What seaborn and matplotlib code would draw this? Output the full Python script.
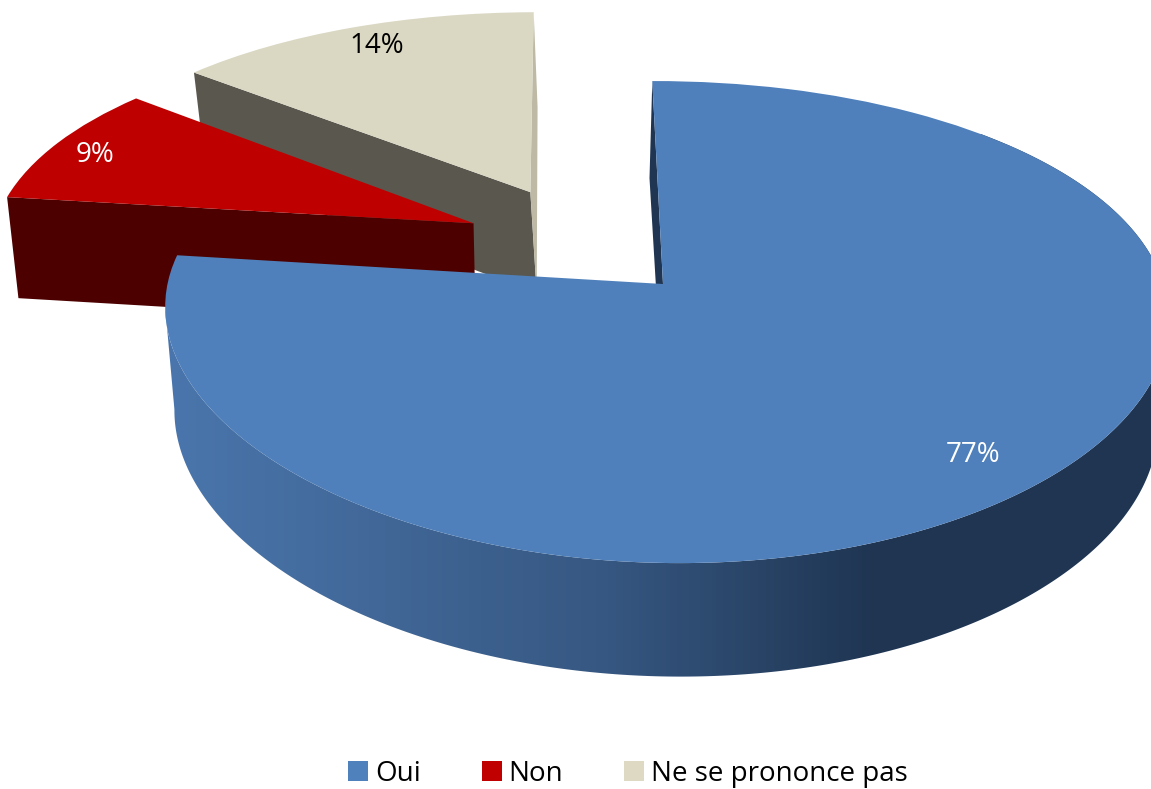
import numpy as np
import matplotlib
matplotlib.use("Agg")
import matplotlib.pyplot as plt
import seaborn as sns
from matplotlib.transforms import Transform
from matplotlib.patches import Polygon, Patch
from matplotlib.colors import LinearSegmentedColormap

categories = ["Oui", "Non", "Ne se prononce pas"]
values = [77, 9, 14]
labels = ["77%", "9%", "14%"]

top_colors = ["#4F80BB", "#BE0000", "#DAD7C2"]
wall_colors = ["#1F3552", "#4D0000", "#5A574E"]
sliver_color = "#BDB9A5"
plane_shift = [(0.0, 0.0), (-0.387, 0.27), (-0.27, 0.417)]
low_shift = [(0.0, 0.0), (0.0, 0.0), (0.012, 0.0)]
label_xy = [(973, 452), (95, 152), (377, 43)]

KX, KY, L = 0.12, 0.158, 0.005
TOP = dict(cx=663, y0=284, rx=498, skew=-12, a=235)
LOW = dict(cx=662, y0=388, rx=488, skew=-14, a=243)


def project(pts, p):
    u, v = pts[:, 0], pts[:, 1]
    dx = 1 + KX * v - L * u
    dy = 1 + KY * v - L * u
    return np.column_stack([p["cx"] + (p["rx"] * u + p["skew"] * v) / dx,
                            p["y0"] - p["a"] * v / dy])


class Persp(Transform):
    input_dims = output_dims = 2

    def __init__(self, p):
        super().__init__()
        self.p = p

    def transform_non_affine(self, values):
        return project(np.asarray(values, float), self.p)


def ring(theta_deg, shift=(0, 0)):
    t = np.radians(theta_deg)
    return np.column_stack([shift[0] + np.sin(t), shift[1] + np.cos(t)])


sns.set_theme(style="white")
plt.rcParams["font.family"] = ["Open Sans", "DejaVu Sans"]
fig = plt.figure(figsize=(11.51, 7.89), dpi=100, facecolor="white")
ax = fig.add_axes([0, 0, 1, 1])

wedges, _ = ax.pie(values, startangle=90, counterclock=False, colors=top_colors,
                   wedgeprops=dict(linewidth=0))
ax.set_aspect("auto")
ax.set_xlim(0, 1151)
ax.set_ylim(789, 0)
ax.axis("off")

bounds = np.concatenate([[0], np.cumsum(values)]) / np.sum(values) * 360
top_tr = Persp(TOP) + ax.transData

# z-order back to front: beige, red, blue
faces = {0: [(bounds[0], wall_colors[0])],
         1: [(bounds[1], wall_colors[1])],
         2: [(bounds[2], wall_colors[2]), (bounds[3], sliver_color)]}
for i, z in zip([2, 1, 0], [2, 4, 6]):
    w = wedges[i]
    w.set_center(plane_shift[i])
    w.set_transform(top_tr)
    w.set_zorder(z + 1)
    s = plane_shift[i]
    ls = low_shift[i]
    for ang, col in faces[i]:
        edge = np.array([s, ring(np.array([ang]), s)[0]])
        quad = np.vstack([project(edge, TOP), project(edge + np.array(ls), LOW)[::-1]])
        ax.add_patch(Polygon(quad, closed=True, fc=col, ec="none", zorder=z))

# curved outer rim of the large slice with a horizontal shade
th = np.linspace(45, bounds[1], 400)
rim_top = project(ring(th), TOP)
rim_low = project(ring(th), LOW)
rim_top = rim_top[:np.argmin(rim_top[:, 0]) + 1]
rim_low = rim_low[:np.argmin(rim_low[:, 0]) + 1]
rim = Polygon(np.vstack([rim_top, rim_low[::-1]]), closed=True, fc="none", ec="none",
              transform=ax.transData, zorder=5)
ax.add_patch(rim)
shade = LinearSegmentedColormap.from_list(
    "rim", [(0, "#4A76AD"), (0.15, "#446C9E"), (0.45, "#365781"), (0.72, "#1F3552"), (1, "#1F3552")])
img = ax.imshow(np.linspace(0, 1, 256)[None, :], extent=[165, 1151, 789, 0], cmap=shade,
                aspect="auto", zorder=5, vmin=0, vmax=1)
img.set_clip_path(rim)
ax.set_xlim(0, 1151)
ax.set_ylim(789, 0)

for lab, (x, y), col in zip(labels, label_xy, ["white", "white", "black"]):
    ax.text(x, y + 3, lab, color=col, fontsize=20, ha="center", va="center", zorder=10)

handles = [Patch(fc=c, ec="none") for c in ["#4F81BD", "#C00000", "#DDD9C3"]]
ax.legend(handles, categories, loc="center", bbox_to_anchor=(628 / 1151, 1 - 774 / 789),
          ncol=3, frameon=False, fontsize=20, handlelength=0.72, handleheight=0.72,
          handletextpad=0.25, columnspacing=2.2, labelcolor="black", borderpad=0)

fig.savefig("out.png", dpi=100, facecolor="white")
